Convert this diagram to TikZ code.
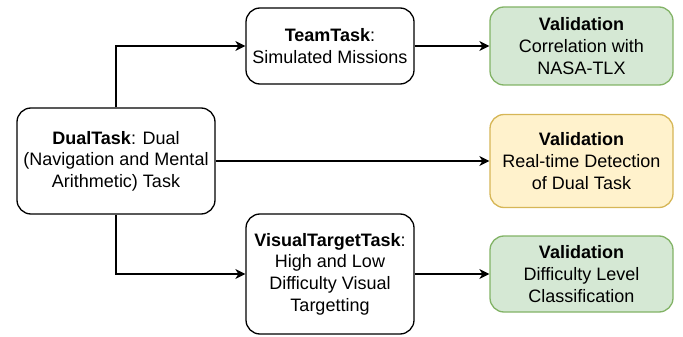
\documentclass[tikz,border=0pt]{standalone}
\usepackage{fontspec}
\setmainfont{Liberation Sans}
\usetikzlibrary{arrows.meta}
\definecolor{greenfill}{HTML}{D5E8D4}
\definecolor{greenline}{HTML}{82B366}
\definecolor{yellowfill}{HTML}{FFF2CC}
\definecolor{yellowline}{HTML}{D6B656}
\begin{document}
\begin{tikzpicture}[x=1pt,y=-1pt,
  box/.style={draw=black, line width=1.3pt, rounded corners=14pt, align=center,
    inner sep=0pt, font=\fontsize{18}{21.6}\selectfont},
  taskbox/.style={box, fill=white},
  greenbox/.style={box, fill=greenfill, draw=greenline},
  yellowbox/.style={box, fill=yellowfill, draw=yellowline},
  link/.style={line width=1.3pt, -{Stealth[length=10pt,width=10pt,inset=3pt]}}
]
\useasboundingbox (0,0) rectangle (683,337);

% task boxes
\node[taskbox, minimum width=198pt, minimum height=106pt] (dual) at (116,161)
  {\textbf{DualTask}: Dual\\(Navigation and Mental\\Arithmetic) Task};
\node[taskbox, minimum width=168pt, minimum height=76pt] (team) at (330,46)
  {\textbf{TeamTask}:\\Simulated Missions};
\node[taskbox, minimum width=168pt, minimum height=120pt] (visual) at (330,274)
  {\textbf{VisualTargetTask}:\\High and Low\\Difficulty Visual\\Targetting};

% validation boxes
\node[greenbox, minimum width=183pt, minimum height=78pt] (valteam) at (581.5,46)
  {\textbf{Validation}\\Correlation with\\NASA-TLX};
\node[yellowbox, minimum width=183pt, minimum height=93pt] (valdual) at (581.5,161)
  {\textbf{Validation}\\Real-time Detection\\of Dual Task};
\node[greenbox, minimum width=183pt, minimum height=76pt] (valvisual) at (581.5,274)
  {\textbf{Validation}\\Difficulty Level\\Classification};

% connectors
\draw[link] (dual.north) |- (team.west);
\draw[link] (dual.south) |- (visual.west);
\draw[link] (dual.east) -- (valdual.west);
\draw[link] (team.east) -- (valteam.west);
\draw[link] (visual.east) -- (valvisual.west);
\end{tikzpicture}
\end{document}
